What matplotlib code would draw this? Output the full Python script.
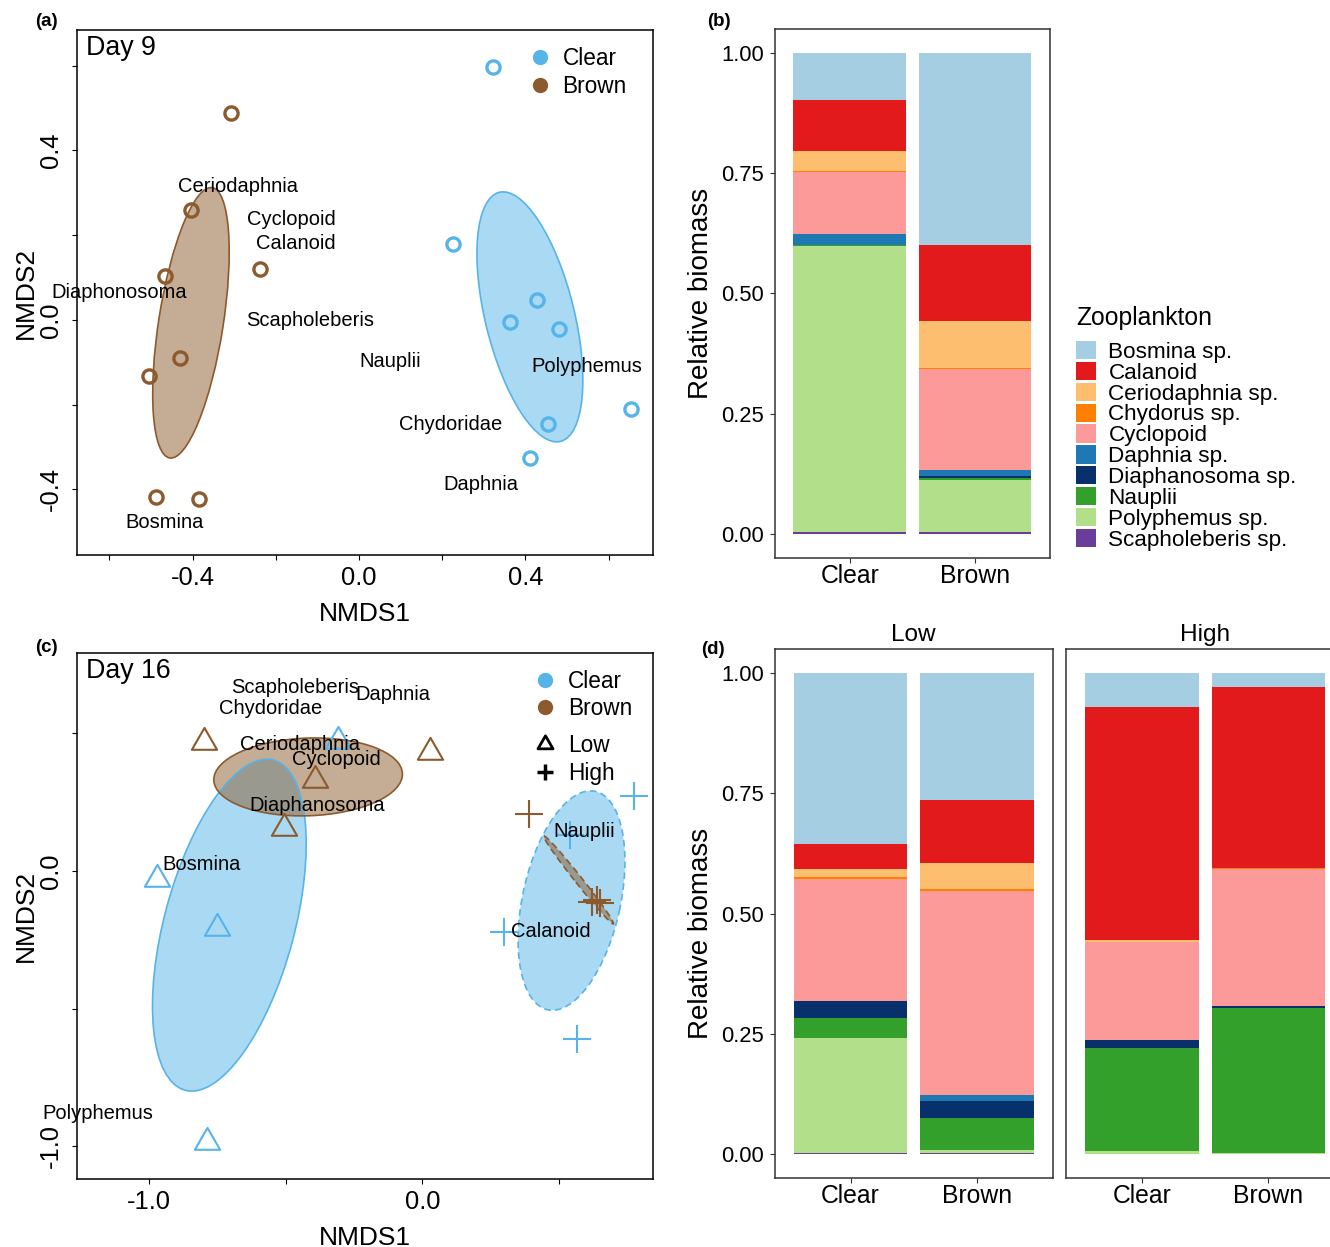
import numpy as np
import matplotlib
matplotlib.use("Agg")
import matplotlib.pyplot as plt
from matplotlib.patches import Ellipse, Patch
from matplotlib.lines import Line2D
from matplotlib.path import Path

plt.rcParams['font.family'] = ['Liberation Sans', 'DejaVu Sans']

# ── Colours ──────────────────────────────────────────────────────────────────
BLUE = '#56B4E9'
BROWN = '#8C5A2D'

# ── Panel (a): NMDS day 9 ────────────────────────────────────────────────────
a_clear_x = [0.322, 0.225, 0.427, 0.364, 0.481, 0.655, 0.454, 0.412]
a_clear_y = [0.596, 0.179, 0.047, -0.005, -0.021, -0.211, -0.245, -0.326]
a_brown_x = [-0.308, -0.403, -0.237, -0.467, -0.431, -0.506, -0.488, -0.385]
a_brown_y = [0.487, 0.259, 0.121, 0.103, -0.090, -0.132, -0.418, -0.424]

a_species = ['Ceriodaphnia', 'Cyclopoid', 'Calanoid', 'Diaphonosoma', 'Scapholeberis',
             'Nauplii', 'Polyphemus', 'Chydoridae', 'Daphnia', 'Bosmina']
a_sp_x = [-0.292, -0.163, -0.153, -0.577, -0.118, 0.075, 0.548, 0.220, 0.293, -0.467]
a_sp_y = [0.314, 0.236, 0.180, 0.065, -0.002, -0.098, -0.109, -0.247, -0.388, -0.478]

# ellipses: centre x, centre y, width, height, angle
a_ell_clear = (0.411, 0.007, 0.606, 0.214, 104.1)
a_ell_brown = (-0.404, -0.007, 0.646, 0.155, 80.9)

# ── Panel (c): NMDS day 16 ───────────────────────────────────────────────────
c_low_clear_x = [-0.308, -0.969, -0.750, -0.789]
c_low_clear_y = [0.470, -0.029, -0.209, -0.983]
c_low_brown_x = [-0.800, 0.026, -0.393, -0.505]
c_low_brown_y = [0.467, 0.431, 0.331, 0.156]
c_high_clear_x = [0.775, 0.538, 0.297, 0.565]
c_high_clear_y = [0.271, 0.131, -0.223, -0.611]
c_high_brown_x = [0.391, 0.620, 0.640, 0.650]
c_high_brown_y = [0.207, -0.112, -0.106, -0.118]

c_species = ['Scapholeberis', 'Daphnia', 'Chydoridae', 'Ceriodaphnia', 'Cyclopoid',
             'Diaphanosoma', 'Nauplii', 'Bosmina', 'Calanoid', 'Polyphemus']
c_sp_x = [-0.467, -0.108, -0.556, -0.447, -0.313, -0.385, 0.592, -0.806, 0.470, -1.188]
c_sp_y = [0.664, 0.641, 0.591, 0.457, 0.406, 0.239, 0.143, 0.023, -0.220, -0.880]

c_ell_low_clear = (-0.706, -0.197, 1.242, 0.476, 74.9)
c_ell_low_brown = (-0.418, 0.341, 0.690, 0.282, 2.0)
c_ell_high_clear = (0.545, -0.108, 0.812, 0.358, 77.6)
c_ell_high_brown = (0.571, -0.033, 0.408, 0.026, -51.4)

# ── Panels (b) and (d): relative biomass ─────────────────────────────────────
taxa = ['Bosmina sp.', 'Calanoid', 'Ceriodaphnia sp.', 'Chydorus sp.', 'Cyclopoid',
        'Daphnia sp.', 'Diaphanosoma sp.', 'Nauplii', 'Polyphemus sp.', 'Scapholeberis sp.']
taxa_colors = ['#A6CEE3', '#E31A1C', '#FDBF6F', '#FF7F00', '#FB9A99',
               '#1F78B4', '#08306B', '#33A02C', '#B2DF8A', '#6A3D9A']
treatments = ['Clear', 'Brown']

b_clear = [0.097, 0.107, 0.042, 0.002, 0.128, 0.023, 0.001, 0.002, 0.595, 0.003]
b_brown = [0.399, 0.159, 0.098, 0.002, 0.210, 0.013, 0.004, 0.004, 0.108, 0.003]

d_low_clear = [0.355, 0.052, 0.017, 0.004, 0.254, 0.000, 0.035, 0.041, 0.239, 0.003]
d_low_brown = [0.264, 0.130, 0.055, 0.004, 0.424, 0.012, 0.036, 0.067, 0.005, 0.003]
d_high_clear = [0.070, 0.484, 0.006, 0.000, 0.202, 0.000, 0.018, 0.213, 0.007, 0.000]
d_high_brown = [0.028, 0.377, 0.000, 0.002, 0.285, 0.000, 0.004, 0.301, 0.003, 0.000]

# ── Figure layout (pixel boxes → figure fractions) ───────────────────────────
W, H = 1330, 1247
fig = plt.figure(figsize=(W / 100, H / 100), dpi=100)


def axpos(l, t, r, b):
    return [l / W, 1 - b / H, (r - l) / W, (b - t) / H]


ax_a = fig.add_axes(axpos(77, 30, 653, 555))
ax_c = fig.add_axes(axpos(77, 653, 653, 1179))
ax_b = fig.add_axes(axpos(774.5, 29, 1050, 557.7))
ax_dl = fig.add_axes(axpos(774.6, 649.3, 1053, 1178))
ax_dh = fig.add_axes(axpos(1066, 649.3, 1344.4, 1178))

# R-like open triangle (equilateral, centred on centroid)
TRI = Path([(-1, -0.577), (1, -0.577), (0, 1.155), (0, 0)], closed=True)


def add_ellipse(ax, e, color, ls='-'):
    cx, cy, w, h, ang = e
    ax.add_patch(Ellipse((cx, cy), w, h, angle=ang, facecolor=color, alpha=0.5,
                         edgecolor='none', zorder=1))
    ax.add_patch(Ellipse((cx, cy), w, h, angle=ang, facecolor='none',
                         edgecolor=color, lw=1.2, ls=ls, zorder=1.5))


def nmds_axes(ax, xlim, ylim, xt, xtl, yt, ytl, title):
    ax.set_xlim(*xlim)
    ax.set_ylim(*ylim)
    ax.set_xticks(xt)
    ax.set_xticklabels(xtl)
    ax.set_yticks(yt)
    ax.set_yticklabels(ytl)
    ax.tick_params(axis='both', direction='out', length=3.6, width=0.8, labelsize=18.4)
    ax.tick_params(axis='x', pad=4.3)
    ax.tick_params(axis='y', pad=6.5)
    for lab in ax.get_yticklabels():
        lab.set_rotation(90)
        lab.set_va('center')
    for sp in ax.spines.values():
        sp.set_linewidth(1.1)
    ax.set_xlabel('NMDS1', fontsize=19)
    ax.set_ylabel('NMDS2', fontsize=19)
    ax.xaxis.set_label_coords(0.5, -0.09)
    ax.yaxis.set_label_coords(-0.068, 0.5)
    ax.text(0.016, 0.99, title, transform=ax.transAxes, fontsize=19.3,
            ha='left', va='top')


# ── (a) ──────────────────────────────────────────────────────────────────────
add_ellipse(ax_a, a_ell_clear, BLUE)
add_ellipse(ax_a, a_ell_brown, BROWN)
ax_a.plot(a_clear_x, a_clear_y, ls='', marker='o', ms=9.5, mew=2.4,
          mfc='none', mec=BLUE, zorder=3)
ax_a.plot(a_brown_x, a_brown_y, ls='', marker='o', ms=9.5, mew=2.4,
          mfc='none', mec=BROWN, zorder=3)
for name, x, y in zip(a_species, a_sp_x, a_sp_y):
    ax_a.text(x, y, name, fontsize=14.5, ha='center', va='center', zorder=4)
nmds_axes(ax_a, (-0.678, 0.707), (-0.555, 0.684),
          [-0.6, -0.4, -0.2, 0.0, 0.2, 0.4, 0.6], ['', '-0.4', '', '0.0', '', '0.4', ''],
          [-0.4, -0.2, 0.0, 0.2, 0.4, 0.6], ['-0.4', '', '0.0', '', '0.4', ''],
          'Day 9')
col_handles = [Line2D([], [], ls='', marker='o', ms=10, color=BLUE, label='Clear'),
               Line2D([], [], ls='', marker='o', ms=10, color=BROWN, label='Brown')]
ax_a.legend(handles=col_handles, loc='upper left', bbox_to_anchor=(0.784, 0.967),
            frameon=False, fontsize=16.3, borderpad=0, borderaxespad=0,
            handlelength=1.0, handletextpad=0.5, labelspacing=0.2)

# ── (c) ──────────────────────────────────────────────────────────────────────
add_ellipse(ax_c, c_ell_low_clear, BLUE)
add_ellipse(ax_c, c_ell_low_brown, BROWN)
add_ellipse(ax_c, c_ell_high_clear, BLUE, ls=(0, (4, 2.5)))
add_ellipse(ax_c, c_ell_high_brown, BROWN, ls=(0, (4, 2.5)))
ax_c.plot(c_low_clear_x, c_low_clear_y, ls='', marker=TRI, ms=21, mew=1.5,
          mfc='none', mec=BLUE, zorder=3)
ax_c.plot(c_low_brown_x, c_low_brown_y, ls='', marker=TRI, ms=21, mew=1.5,
          mfc='none', mec=BROWN, zorder=3)
ax_c.plot(c_high_clear_x, c_high_clear_y, ls='', marker='+', ms=19.5, mew=1.5,
          color=BLUE, zorder=3)
ax_c.plot(c_high_brown_x, c_high_brown_y, ls='', marker='+', ms=19.5, mew=1.5,
          color=BROWN, zorder=3)
for name, x, y in zip(c_species, c_sp_x, c_sp_y):
    ax_c.text(x, y, name, fontsize=14.5, ha='center', va='center', zorder=4)
nmds_axes(ax_c, (-1.263, 0.843), (-1.119, 0.791),
          [-1.0, -0.5, 0.0, 0.5], ['-1.0', '', '0.0', ''],
          [-1.0, -0.5, 0.0, 0.5], ['-1.0', '', '0.0', ''],
          'Day 16')
leg1 = ax_c.legend(handles=col_handles, loc='upper left', bbox_to_anchor=(0.793, 0.968),
                   frameon=False, fontsize=16.3, borderpad=0, borderaxespad=0,
                   handlelength=1.0, handletextpad=0.5, labelspacing=0.2)
ax_c.add_artist(leg1)
lvl_handles = [Line2D([], [], ls='', marker=TRI, ms=12.5, mew=2, mfc='none', mec='black',
                      label='Low'),
               Line2D([], [], ls='', marker='+', ms=11, mew=2.5, color='black',
                      label='High')]
ax_c.legend(handles=lvl_handles, loc='upper left', bbox_to_anchor=(0.793, 0.846),
            frameon=False, fontsize=16.3, borderpad=0, borderaxespad=0,
            handlelength=1.0, handletextpad=0.5, labelspacing=0.2)


# ── (b) and (d): stacked bars ────────────────────────────────────────────────
def stacked(ax, series):
    x = np.arange(1, len(series) + 1)
    bottom = np.zeros(len(series))
    # bottom of the stack is the last taxon
    for i in range(len(taxa) - 1, -1, -1):
        vals = np.array([s[i] for s in series])
        ax.bar(x, vals, bottom=bottom, width=0.9, color=taxa_colors[i], lw=0)
        bottom += vals
    ax.set_xlim(0.4, 2.6)
    ax.set_ylim(-0.05, 1.05)
    ax.set_xticks(x)
    ax.set_xticklabels(treatments, fontsize=17.8)
    ax.set_yticks([0, 0.25, 0.5, 0.75, 1.0])
    ax.set_yticklabels(['0.00', '0.25', '0.50', '0.75', '1.00'], fontsize=15.8)
    ax.tick_params(axis='both', direction='out', length=3.6, width=0.8, color='#333333')
    ax.tick_params(axis='x', pad=0.8)
    ax.tick_params(axis='y', pad=4)
    for sp in ax.spines.values():
        sp.set_linewidth(1.1)
        sp.set_color('#333333')


stacked(ax_b, [b_clear, b_brown])
ax_b.set_ylabel('Relative biomass', fontsize=20)
ax_b.yaxis.set_label_coords(-0.22, 0.5)

stacked(ax_dl, [d_low_clear, d_low_brown])
ax_dl.set_ylabel('Relative biomass', fontsize=20)
ax_dl.yaxis.set_label_coords(-0.218, 0.463)
ax_dl.set_title('Low', fontsize=17.6, pad=6)

stacked(ax_dh, [d_high_clear, d_high_brown])
ax_dh.tick_params(axis='y', left=False, labelleft=False)
ax_dh.set_title('High', fontsize=17.6, pad=6)

# legend for zooplankton taxa
fig.text(1076 / W, 1 - 318 / H, 'Zooplankton', fontsize=17.8, ha='left', va='center')
taxa_handles = [Patch(facecolor=c, edgecolor='none', label=t)
                for t, c in zip(taxa, taxa_colors)]
fig.legend(handles=taxa_handles, loc='upper left', bbox_to_anchor=(1076 / W, 1 - 341 / H),
           frameon=False, fontsize=16.2, borderpad=0, borderaxespad=0,
           handlelength=0.89, handleheight=0.88, handletextpad=0.55,
           labelspacing=-0.05)

# ── Panel letters ────────────────────────────────────────────────────────────
for lab, x, y in [('(a)', 46, 22), ('(b)', 719, 22), ('(c)', 46, 647), ('(d)', 713, 650)]:
    fig.text(x / W, 1 - y / H, lab, fontsize=13.5, fontweight='bold',
             ha='center', va='center')

fig.savefig('out.png', dpi=100)
